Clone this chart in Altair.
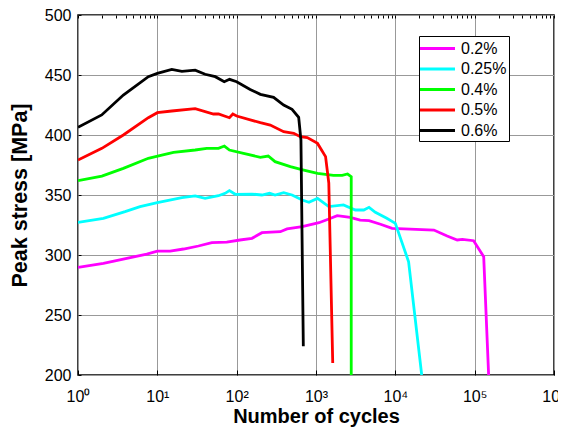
import altair as alt
import pandas as pd

series = ["0.2%", "0.25%", "0.4%", "0.5%", "0.6%"]
colors = ["#ff00ff", "#00ffff", "#00ff00", "#ff0000", "#000000"]

n_02 = [1, 2.09, 4.12, 7.36, 10, 14.5, 21.4, 33, 48.6, 75, 110, 156, 208, 355, 432, 670, 1090, 1320,
        1850, 2700, 3600, 4660, 6500, 9100, 30600, 45000, 60300, 70000, 97000, 130000, 150000]
s_02 = [289.7, 293.1, 297.2, 300.8, 303.3, 303.3, 305, 307.5, 310.3, 310.8, 312.5, 313.9, 318.6, 319.4,
        321.7, 323.6, 326.9, 329, 332.8, 331.4, 329, 328.6, 325.6, 322.2, 320.8, 315.8, 312.5, 313,
        311.9, 298.6, 200]

n_025 = [1, 2.09, 3.92, 6.06, 10, 20.4, 30, 40, 59, 71.5, 81, 96, 156, 208, 260, 305, 391, 499, 670,
         815, 1045, 1450, 2220, 3130, 4000, 4660, 5600, 7800, 10000, 14700, 21500]
s_025 = [327.2, 330.6, 336.1, 340.3, 343.6, 347.8, 349.2, 347.2, 349.4, 351.4, 353.6, 350.6, 350.8,
         350, 351.4, 350, 351.9, 350, 345.8, 343.9, 347.2, 340.3, 341.7, 337.5, 337.5, 339.7, 335.6,
         330.6, 326.4, 294.4, 200]

n_04 = [1, 2, 3.73, 7.7, 11.4, 16, 30, 42, 59, 70, 81, 122, 199, 250, 305, 475, 700, 1045, 1660,
        2140, 2500, 2780, 2780]
s_04 = [361.9, 365.8, 372.2, 380.6, 383.3, 385.6, 387.5, 388.9, 388.9, 390.8, 387.5, 384.7, 381.4,
        382.5, 377.8, 373.6, 370.8, 368, 366.4, 366.4, 367.5, 365.3, 200]

n_05 = [1, 2, 3.73, 7.7, 10, 15.2, 30, 51, 59, 81, 89.5, 100, 199, 265, 391, 524, 635, 776, 1045,
        1320, 1450, 1625]
s_05 = [379.2, 388.9, 400, 414.4, 418.6, 420, 421.9, 417.5, 417.5, 414.4, 417.5, 415.8, 410.3, 408.3,
        402.8, 401.4, 398.6, 397.8, 393, 382, 360, 210]

n_06 = [1, 1.99, 3.73, 7.7, 10, 15.2, 20.4, 30, 40, 53.7, 69.7, 81.4, 100, 148, 199, 292, 391, 499,
        605, 646, 692]
s_06 = [406.4, 416.7, 433.3, 448.6, 451.4, 454.7, 453, 454, 450.6, 448.6, 444.4, 446.4, 444.4, 438,
        433.9, 431.4, 425, 421.4, 414.7, 395.8, 224]

x_major = [1, 10, 100, 1000, 10000, 100000, 1000000]
x_minor = [m * d for d in [1, 10, 100, 1000, 10000, 100000] for m in range(2, 10)]
y_ticks = list(range(200, 501, 25))

rows = []
for name, ns, ss in zip(series, [n_02, n_025, n_04, n_05, n_06], [s_02, s_025, s_04, s_05, s_06]):
    for i, (n, s) in enumerate(zip(ns, ss)):
        rows.append({"strain": name, "N": n, "S": s, "i": i})
df = pd.DataFrame(rows)

sup = "['\u2070','\u00b9','\u00b2','\u00b3','\u2074','\u2075','\u2076']"
xlab = "'10' + " + sup + "[round(log(datum.value)/LN10)]"

xscale = alt.Scale(type="log", domain=[1, 1e6])
yscale = alt.Scale(domain=[200, 500])

lines = alt.Chart(df).mark_line(strokeWidth=2.8, clip=True).encode(
    x=alt.X("N:Q", scale=xscale, axis=alt.Axis(
        orient="bottom", values=x_major, offset=-5, tickSize=5, tickColor="black", tickWidth=1,
        domain=False, grid=False, labelExpr=xlab, labelFontSize=16, labelColor="black",
        labelFont="Liberation Sans", labelPadding=13, labelFlush=False,
        title="Number of cycles", titleFontSize=20, titleFont="Liberation Sans",
        titleFontWeight="bold", titleColor="black", titlePadding=2)),
    y=alt.Y("S:Q", scale=yscale, axis=alt.Axis(
        orient="left", values=y_ticks, offset=-3, tickSize=3, tickColor="black",
        domain=False, grid=True,
        gridDash=alt.condition("datum.value % 50 != 0", alt.value([2, 2]), alt.value([])),
        gridColor=alt.condition("datum.value % 50 != 0", alt.value("#bbbbbb"), alt.value("#999999")),
        labelExpr="datum.value % 50 == 0 ? datum.label : ''", labelFontSize=16,
        labelColor="black", labelFont="Liberation Sans", labelPadding=7,
        title="Peak stress [MPa]", titleFontSize=21.5, titleFont="Liberation Sans",
        titleFontWeight="bold", titleColor="black", titlePadding=13)),
    color=alt.Color("strain:N", scale=alt.Scale(domain=series, range=colors), legend=alt.Legend(
        orient="none", legendX=341, legendY=21, title=None, symbolType="M-2,0H2",
        symbolSize=306, symbolStrokeWidth=3, labelFontSize=16, labelFont="Liberation Sans",
        labelColor="black", strokeColor="black", fillColor="white", padding=2,
        rowPadding=1.5, symbolOffset=6, labelOffset=13)),
    order="i:Q",
)

topaxis = alt.Chart(df).mark_point(opacity=0).encode(
    x=alt.X("N:Q", scale=xscale, axis=alt.Axis(
        orient="top", values=x_major + x_minor, offset=-3, tickSize=3, tickColor="black",
        domain=False, labels=False, title=None, grid=True, gridColor="#999999",
        gridOpacity=alt.condition(
            "abs(log(datum.value)/LN10 - round(log(datum.value)/LN10)) < 0.001",
            alt.value(1), alt.value(0)))),
    y=alt.Y("S:Q", scale=yscale),
)

chart = alt.layer(topaxis, lines).resolve_axis(x="independent").properties(
    width=476, height=360,
    autosize=alt.AutoSizeParams(type="none"),
    padding={"left": 70, "top": 7, "right": 4, "bottom": 52},
).configure_view(stroke="black", strokeWidth=1.5)

chart.save("out.html", embed_options={"renderer": "svg", "actions": False})
